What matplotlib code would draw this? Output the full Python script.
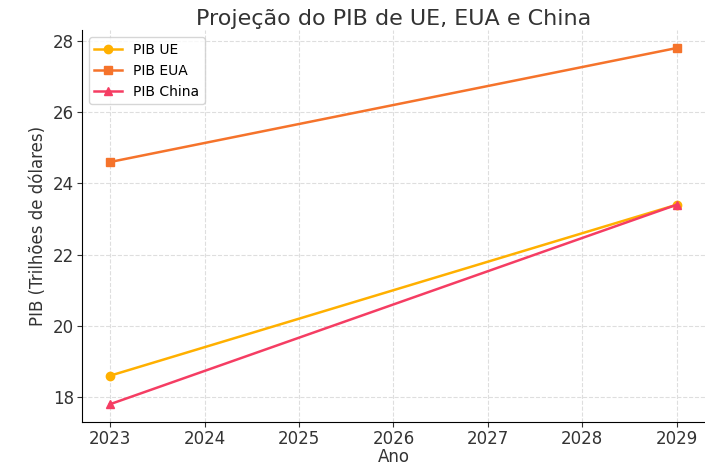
import matplotlib.pyplot as plt

anos = [2023, 2029]
pib_ue = [18.6, 23.4]
pib_eua = [24.6, 27.8]
pib_china = [17.8, 23.4]

fig = plt.figure(figsize=(7.05, 4.65), dpi=100)
ax = fig.add_axes([0.116, 0.0925, 0.884, 0.8425])

ax.plot(anos, pib_ue, marker='o', color='#FFB000', label='PIB UE', linewidth=1.8, markersize=6)
ax.plot(anos, pib_eua, marker='s', color='#F5732B', label='PIB EUA', linewidth=1.8, markersize=6)
ax.plot(anos, pib_china, marker='^', color='#F53D63', label='PIB China', linewidth=1.8, markersize=6)

ax.set_title('Projeção do PIB de UE, EUA e China', fontsize=16, color='#333333', pad=4)
ax.set_xlabel('Ano', fontsize=12, color='#333333', labelpad=0)
ax.set_ylabel('PIB (Trilhões de dólares)', fontsize=12, color='#333333', labelpad=4)
ax.set_xticks(range(2023, 2030))
ax.tick_params(labelsize=12, colors='#333333', pad=2)
ax.grid(True, linestyle='--', color='#dedede', linewidth=0.8)
ax.spines['top'].set_visible(False)
ax.spines['right'].set_visible(False)
ax.legend(loc='upper left', fontsize=10, labelspacing=0.5)

fig.savefig('out.png', dpi=100)
